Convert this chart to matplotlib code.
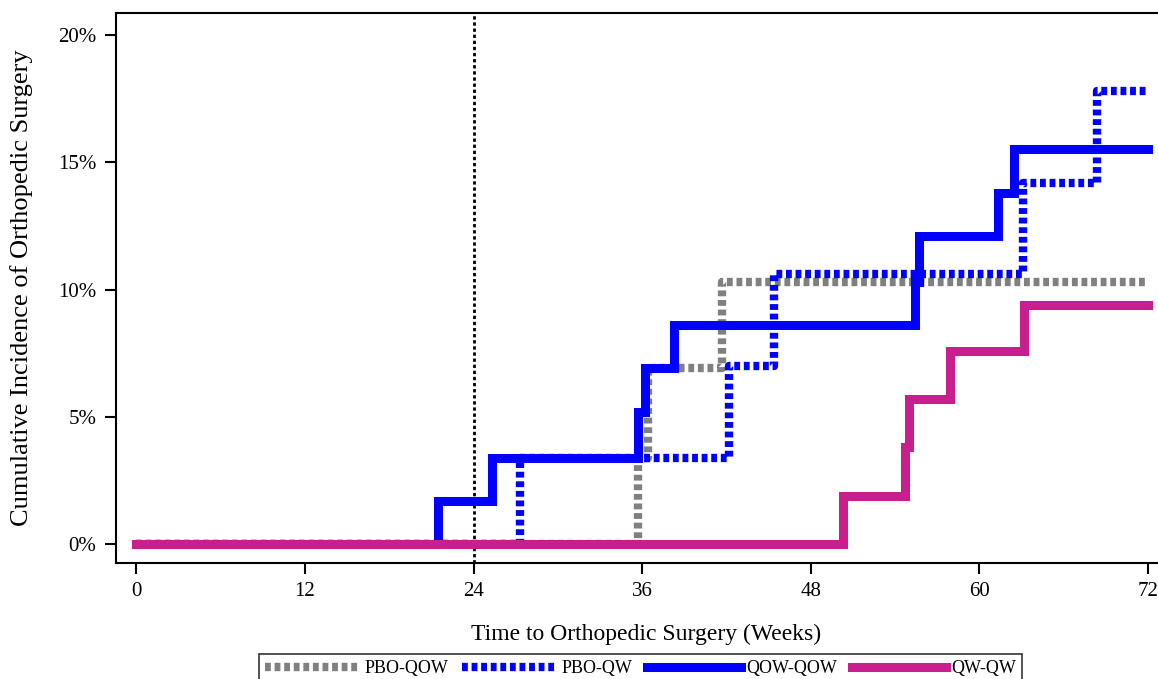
#!/usr/bin/env python3
"""
Cumulative incidence of orthopedic surgery by treatment sequence.
Step curves per arm, with the week-24 switch marked by a dotted line.
"""

import matplotlib
matplotlib.use("Agg")
import matplotlib.pyplot as plt
from matplotlib.ticker import FuncFormatter

# event times (weeks) and cumulative incidence (%) for each arm
pbo_qow_weeks = [0, 35.7, 36.4, 41.7, 72]
pbo_qow_pct = [0, 3.4, 6.9, 10.3, 10.3]

pbo_qw_weeks = [0, 27.3, 42.2, 45.4, 63.1, 68.4, 72]
pbo_qw_pct = [0, 3.4, 7.0, 10.6, 14.2, 17.8, 17.8]

qow_qow_weeks = [0, 21.5, 25.3, 35.7, 36.2, 38.3, 55.4, 55.7, 61.3, 62.5, 72]
qow_qow_pct = [0, 1.7, 3.4, 5.2, 6.9, 8.6, 10.3, 12.1, 13.8, 15.5, 15.5]

qw_qw_weeks = [0, 50.3, 54.7, 55.0, 57.9, 63.2, 72]
qw_qw_pct = [0, 1.9, 3.8, 5.7, 7.6, 9.4, 9.4]

x_ticks = [0, 12, 24, 36, 48, 60, 72]
y_ticks = [0, 5, 10, 15, 20]
switch_week = 24

plt.rcParams["font.family"] = ["Liberation Serif", "DejaVu Serif"]

fig = plt.figure(figsize=(11.58, 6.79), dpi=100)
ax = fig.add_axes([116 / 1158, 1 - 563 / 679, 1060 / 1158, 550 / 679])

dots = (0, (0.7, 0.45))
ax.step(pbo_qow_weeks, pbo_qow_pct, where="post", color="#808080",
	lw=6, linestyle=dots, label="PBO-QOW", zorder=2)
ax.step(pbo_qw_weeks, pbo_qw_pct, where="post", color="#0000FF",
	lw=6, linestyle=dots, label="PBO-QW", zorder=3)
ax.step(qow_qow_weeks, qow_qow_pct, where="post", color="#0000FF",
	lw=6.5, label="QOW-QOW", zorder=4, solid_joinstyle="miter")
ax.step(qw_qw_weeks, qw_qw_pct, where="post", color="#C81E8E",
	lw=6.5, label="QW-QW", zorder=5, solid_joinstyle="miter")

ax.axvline(switch_week, color="black", lw=2, linestyle=(0, (1.2, 1)), zorder=1)

ax.set_xlim(-1.45, 74.0)
ax.set_ylim(-0.74, 20.86)
ax.set_xticks(x_ticks)
ax.set_yticks(y_ticks)
ax.yaxis.set_major_formatter(FuncFormatter(lambda v, _: f"{v:.0f}%"))
ax.tick_params(direction="out", length=8, width=1.5, labelsize=15, pad=6)

for side in ["left", "bottom", "top", "right"]:
	ax.spines[side].set_linewidth(1.5)

ax.set_xlabel("Time to Orthopedic Surgery (Weeks)", fontsize=17, labelpad=16)
ax.set_ylabel("Cumulative Incidence of Orthopedic Surgery", fontsize=19, labelpad=18)

leg = fig.legend(loc="upper center", bbox_to_anchor=(0.553, 0.050), ncol=4,
	fontsize=13, handlelength=5.2, columnspacing=0.8, handletextpad=0.3,
	frameon=True, fancybox=False, edgecolor="black", borderpad=0.35)
leg.get_frame().set_linewidth(1.2)

fig.savefig("out.png", dpi=100)
